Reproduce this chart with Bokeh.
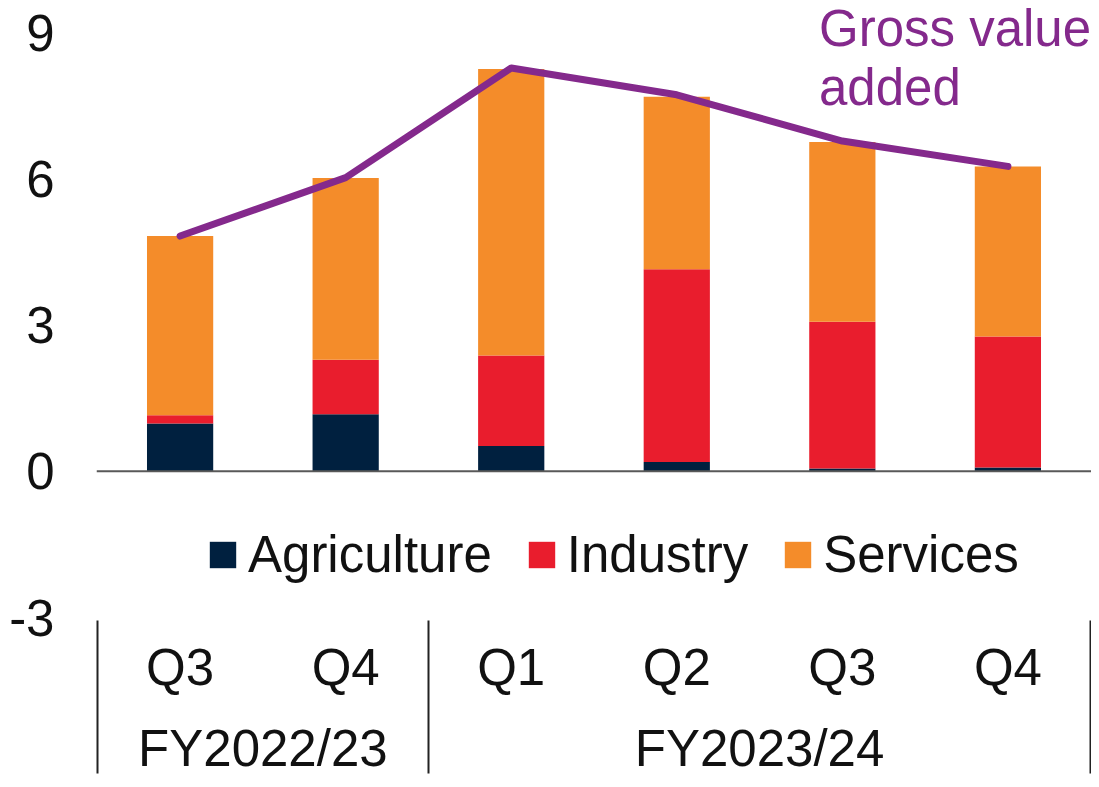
from bokeh.plotting import figure
from bokeh.models import (FactorRange, FixedTicker, Span, Legend, LegendItem,
                          Label, Range1d, ColumnDataSource, NumeralTickFormatter)
from bokeh.embed import file_html
from bokeh.resources import INLINE

fiscal_years = ["FY2022/23", "FY2022/23", "FY2023/24", "FY2023/24", "FY2023/24", "FY2023/24"]
quarters = ["Q3", "Q4", "Q1", "Q2", "Q3", "Q4"]
agriculture = [0.98, 1.17, 0.52, 0.19, 0.06, 0.08]
industry = [0.17, 1.12, 1.86, 3.96, 3.01, 2.69]
services = [3.68, 3.73, 5.88, 3.54, 3.69, 3.49]
gross_value_added = [4.83, 6.03, 8.28, 7.73, 6.78, 6.26]
y_ticks = [-3, 0, 3, 6, 9]
series = ["Agriculture", "Industry", "Services"]
colors = ["#00203F", "#E91D2D", "#F48C2A"]

FONT = "Liberation Sans"
FS = "51px"
TXT = "#111111"
PURPLE = "#84298C"

factors = list(zip(fiscal_years, quarters))
# blank edge groups (kept just outside the visible range) so that the axis draws
# group separators at both outer edges as well as between the fiscal years
edge_left, edge_right = (" ", " "), ("  ", " ")
x_range = FactorRange(*([edge_left] + factors + [edge_right]), group_padding=0,
                      factor_padding=0, range_padding=-0.995, range_padding_units="absolute")

source = ColumnDataSource(dict(x=factors, Agriculture=agriculture, Industry=industry,
                               Services=services, gva=gross_value_added))

p = figure(x_range=x_range, y_range=Range1d(-3, 9.665),
           width=1091, height=779, output_backend="svg", toolbar_location=None,
           min_border_left=96, min_border_right=0, min_border_top=0, min_border_bottom=0)
p.outline_line_color = None
p.xgrid.visible = False
p.ygrid.visible = False

renderers = p.vbar_stack(series, x="x", width=0.4, source=source, color=colors, line_color=None)

p.add_layout(Span(location=0, dimension="width", line_color="#595959", line_width=2))

p.line(x="x", y="gva", source=source, line_color=PURPLE, line_width=7,
       line_cap="round", line_join="round")

for txt, yy in [("Gross value", 9.09), ("added", 7.88)]:
    p.add_layout(Label(x=5.359, y=yy, text=txt, text_color=PURPLE,
                       text_font=FONT, text_font_size=FS, text_baseline="middle"))

legend = Legend(items=[LegendItem(label=s, renderers=[r]) for s, r in zip(series, renderers)],
                orientation="horizontal", location=(110, 33),
                glyph_width=33, glyph_height=33, label_standoff=9, spacing=33,
                padding=0, margin=0, border_line_color=None, background_fill_alpha=0,
                label_text_font=FONT, label_text_font_size=FS, label_text_color=TXT)
p.add_layout(legend)

p.yaxis.ticker = FixedTicker(ticks=y_ticks)
p.yaxis.formatter = NumeralTickFormatter(format="0")
p.yaxis.axis_line_color = None
p.yaxis.major_tick_line_color = None
p.yaxis.major_tick_out = 0
p.yaxis.major_tick_in = 0
p.yaxis.minor_tick_line_color = None
p.yaxis.major_label_standoff = 42
p.yaxis.major_label_text_font = FONT
p.yaxis.major_label_text_font_size = FS
p.yaxis.major_label_text_color = TXT

p.xaxis.axis_line_color = None
p.xaxis.major_tick_line_color = None
p.xaxis.major_tick_out = 0
p.xaxis.major_tick_in = 0
p.xaxis.major_label_standoff = 21
p.xaxis.major_label_text_font = FONT
p.xaxis.major_label_text_font_size = FS
p.xaxis.major_label_text_color = TXT
p.xaxis.group_text_font = FONT
p.xaxis.group_text_font_size = FS
p.xaxis.group_text_color = TXT
p.xaxis.group_text_font_style = "normal"
p.xaxis.separator_line_color = "#222222"
p.xaxis.separator_line_width = 2

open("out.html", "w").write(file_html(p, INLINE))
